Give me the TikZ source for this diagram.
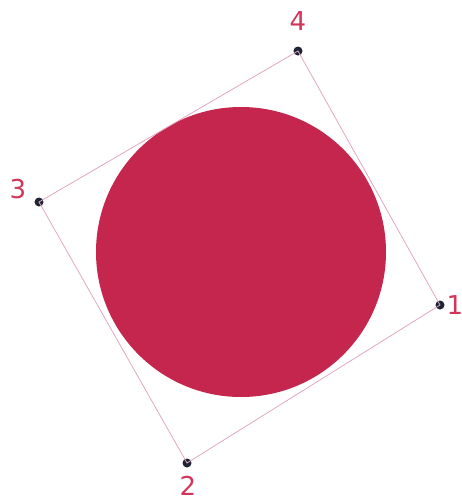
\documentclass[tikz,border=0pt]{standalone}
\usepackage{fontspec}
\setmainfont{DejaVu Sans}
\definecolor{disc}{HTML}{C4264D}
\definecolor{edge}{HTML}{E2A6C4}
\definecolor{num}{HTML}{D1365A}
\definecolor{dot}{HTML}{1E2433}
\tikzset{corner/.style={circle,fill=dot,inner sep=0pt,minimum size=9pt},
num/.style={text=num,font=\fontsize{26}{26}\selectfont,inner sep=0pt},
side/.style={draw=edge,line width=0.8pt}}
\begin{document}
\begin{tikzpicture}[x=1pt,y=-1pt]
\useasboundingbox (0,0) rectangle (462,501);
\fill[disc] (241,252) circle (145);
\node[corner] (p1) at (440,305) {};
\node[corner] (p2) at (187,463) {};
\node[corner] (p3) at (39,202) {};
\node[corner] (p4) at (298,51) {};
\draw[side] (p1.center)--(p2.center)--(p3.center)--(p4.center)--cycle;
\node[num] (n1) at (455,305) {1};
\node[num] (n2) at (188,486) {2};
\node[num] (n3) at (18,189) {3};
\node[num] (n4) at (298,21) {4};
\end{tikzpicture}
\end{document}
